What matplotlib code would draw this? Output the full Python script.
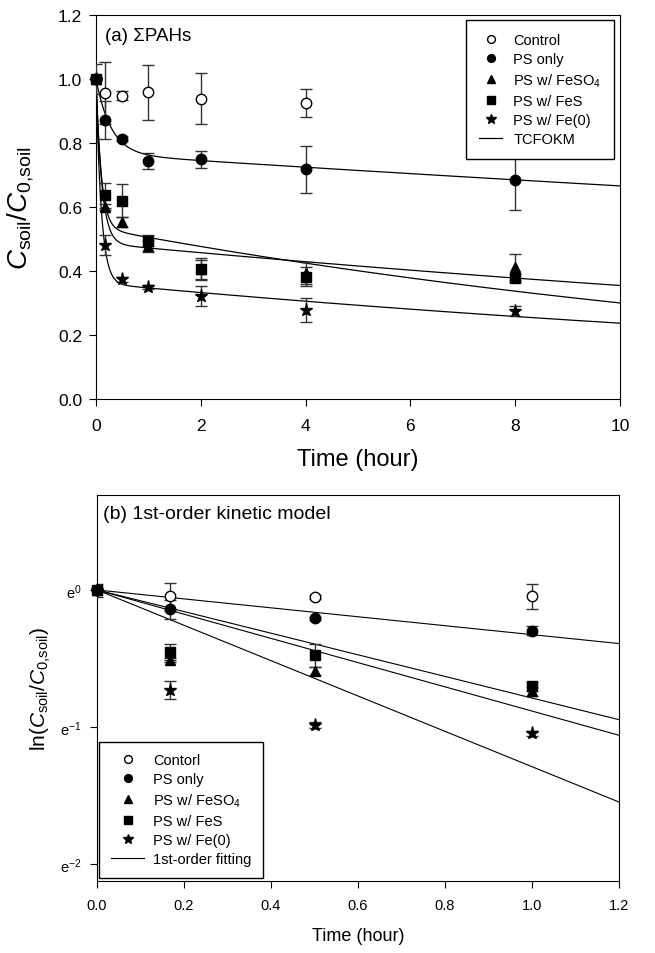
import matplotlib
matplotlib.use('Agg')
import matplotlib.pyplot as plt
import numpy as np

plt.rcParams['font.family'] = ['Liberation Sans', 'DejaVu Sans']
plt.rcParams['mathtext.fontset'] = 'custom'
plt.rcParams['mathtext.rm'] = 'Liberation Sans'
plt.rcParams['mathtext.it'] = 'Liberation Sans:italic'
plt.rcParams['mathtext.sf'] = 'Liberation Sans'

# Sampling times (hour)
t = np.array([0, 0.167, 0.5, 1, 2, 4, 8])

# C_soil / C_0,soil and error bars
control = np.array([1.0, 0.955, 0.948, 0.958, 0.938, 0.924, np.nan])
control_err = np.array([0.047, 0.097, 0.013, 0.085, 0.080, 0.044, np.nan])
ps_only = np.array([1.0, 0.871, 0.813, 0.743, 0.749, 0.718, 0.685])
ps_only_err = np.array([0.0, 0.060, 0.008, 0.025, 0.027, 0.073, 0.093])
ps_feso4 = np.array([1.0, 0.600, 0.553, 0.477, 0.405, 0.393, 0.412])
ps_feso4_err = np.array([0.0, 0.010, 0.017, 0.017, 0.030, 0.035, 0.040])
ps_fes = np.array([1.0, 0.636, 0.620, 0.495, 0.407, 0.382, 0.378])
ps_fes_err = np.array([0.0, 0.038, 0.052, 0.017, 0.035, 0.030, 0.012])
ps_fe0 = np.array([1.0, 0.482, 0.374, 0.351, 0.322, 0.279, 0.274])
ps_fe0_err = np.array([0.0, 0.032, 0.008, 0.006, 0.032, 0.037, 0.016])

# TCFOKM parameters (F, k1, k2) for PS only, FeSO4, FeS, Fe(0)
tc_F = [0.234, 0.513, 0.465, 0.638]
tc_k1 = [3.5, 9.0, 10.0, 10.0]
tc_k2 = [0.014, 0.0317, 0.0578, 0.0424]

# 1st-order rate constants (1/hour) for PS only, FeS, FeSO4, Fe(0)
k_first = [0.326, 0.789, 0.884, 1.29]

series = [
    ('Control', 'Contorl', control, control_err, 'o', 'white', 7.5),
    ('PS only', 'PS only', ps_only, ps_only_err, 'o', 'black', 7.5),
    ('PS w/ FeSO$_4$', 'PS w/ FeSO$_4$', ps_feso4, ps_feso4_err, '^', 'black', 7.5),
    ('PS w/ FeS', 'PS w/ FeS', ps_fes, ps_fes_err, 's', 'black', 7),
    ('PS w/ Fe(0)', 'PS w/ Fe(0)', ps_fe0, ps_fe0_err, '*', 'black', 9.5),
]

fig = plt.figure(figsize=(6.55, 9.54), dpi=100)
ax1 = fig.add_axes([96 / 655, 1 - 400 / 954, 524 / 655, 384 / 954])
ax2 = fig.add_axes([97 / 655, 1 - 882 / 954, 522 / 655, 386 / 954])

# ---------- (a) TCFOKM ----------
tt = np.linspace(0, 10, 800)
for F, k1, k2 in zip(tc_F, tc_k1, tc_k2):
    ax1.plot(tt, F * np.exp(-k1 * tt) + (1 - F) * np.exp(-k2 * tt), color='black', lw=0.9, zorder=2)

h1 = []
for lab, _, y, e, m, fc, ms in series:
    ax1.errorbar(t, y, yerr=e, fmt='none', ecolor='#333333', elinewidth=1, capsize=4, capthick=1, zorder=3)
    h = ax1.plot(t, y, linestyle='none', marker=m, mfc=fc, mec='black', mew=1, ms=ms,
                 label=lab, zorder=4, clip_on=False)[0]
    h1.append(h)
h1.append(ax1.plot([], [], color='black', lw=0.9, label='TCFOKM')[0])

ax1.set_xlim(0, 10)
ax1.set_ylim(0, 1.2)
ax1.set_xticks(np.arange(0, 11, 2))
ax1.set_yticks(np.arange(0, 1.21, 0.2))
ax1.set_yticklabels([f'{v:.1f}' for v in np.arange(0, 1.21, 0.2)])
ax1.tick_params(direction='out', length=5, width=0.8, labelsize=12.5, top=False, right=False)
ax1.tick_params(axis='x', pad=9)
ax1.tick_params(axis='y', pad=5)
ax1.set_xlabel('Time (hour)', fontsize=17)
ax1.xaxis.set_label_coords(0.5, -0.128)
ax1.set_ylabel(r'$C_{\mathrm{soil}}/C_{\mathrm{0{,}soil}}$', fontsize=20)
ax1.yaxis.set_label_coords(-0.115, 0.5)
ax1.text(0.017, 0.968, '(a) ΣPAHs', transform=ax1.transAxes, fontsize=13.5, va='top', ha='left')

leg1 = ax1.legend(handles=h1, loc='upper right', bbox_to_anchor=(0.989, 0.987), borderaxespad=0,
                  fontsize=10.5, frameon=True, fancybox=False, edgecolor='black', framealpha=1,
                  borderpad=0.9, labelspacing=0.35, handlelength=1.6, handletextpad=0.75,
                  markerscale=0.75, numpoints=1)
leg1.get_frame().set_linewidth(1.0)
leg1.set_zorder(10)

# ---------- (b) 1st-order kinetic model ----------
mask = t <= 1
tl = np.linspace(0, 1.2, 50)
for k in k_first:
    ax2.plot(tl, np.exp(-k * tl), color='black', lw=0.8, zorder=2)

h2 = []
for _, lab, y, e, m, fc, ms in series:
    ax2.errorbar(t[mask], y[mask], yerr=e[mask], fmt='none', ecolor='#333333', elinewidth=1,
                 capsize=4, capthick=1, zorder=3)
    h = ax2.plot(t[mask], y[mask], linestyle='none', marker=m, mfc=fc, mec='black', mew=1, ms=ms,
                 label=lab, zorder=4, clip_on=False)[0]
    h2.append(h)
h2.append(ax2.plot([], [], color='black', lw=0.8, label='1st-order fitting')[0])

ax2.set_yscale('log', base=np.e)
ax2.set_xlim(0, 1.2)
ax2.set_ylim(0.1195, 2.0)
ax2.set_xticks(np.arange(0, 1.21, 0.2))
ax2.set_xticklabels([f'{v:.1f}' for v in np.arange(0, 1.21, 0.2)])
ax2.set_yticks([1, np.exp(-1), np.exp(-2)])
ax2.set_yticklabels(['e$^{0}$', 'e$^{-1}$', 'e$^{-2}$'])
ax2.minorticks_off()
ax2.tick_params(direction='out', length=5, width=0.8, labelsize=10.5, top=False, right=False)
ax2.tick_params(axis='x', pad=7)
ax2.tick_params(axis='y', pad=6)
ax2.set_xlabel('Time (hour)', fontsize=13)
ax2.xaxis.set_label_coords(0.5, -0.12)
ax2.set_ylabel(r'ln($C_{\mathrm{soil}}/C_{\mathrm{0{,}soil}}$)', fontsize=15)
ax2.yaxis.set_label_coords(-0.084, 0.5)
ax2.text(0.012, 0.975, '(b) 1st-order kinetic model', transform=ax2.transAxes, fontsize=14,
         va='top', ha='left')

leg2 = ax2.legend(handles=h2, loc='lower left', bbox_to_anchor=(0.004, 0.008), borderaxespad=0,
                  fontsize=10.5, frameon=True, fancybox=False, edgecolor='black', framealpha=1,
                  borderpad=0.8, labelspacing=0.35, handlelength=2.3, handletextpad=0.6,
                  markerscale=0.75, numpoints=1)
leg2.get_frame().set_linewidth(1.0)
leg2.set_zorder(10)

fig.savefig('out.png', dpi=100)
